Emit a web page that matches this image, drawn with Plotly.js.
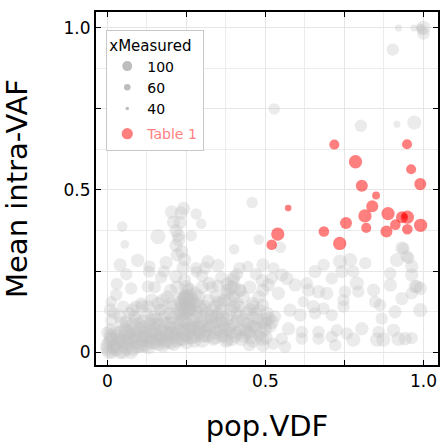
<!DOCTYPE html>
<html>
<head>
<meta charset="utf-8">
<script src="https://cdn.plot.ly/plotly-3.0.1.min.js"></script>
<style>html,body{margin:0;padding:0;background:#fff;}#chart{width:443px;height:443px;}</style>
</head>
<body>
<div id="chart"></div>
<script>
// ---- data: all samples (pop.VDF, Mean intra-VAF, xMeasured) ----
const grayX = [
 1.0,0.995,0.99,0.97,0.921,1.0,0.903,0.528,0.971,0.916,0.802,
 0.458,0.241,0.203,0.233,0.281,0.209,0.297,0.047,0.217,0.160,0.265,0.226,0.479,0.055,0.217,0.401,0.221,0.096,0.186,0.040,0.318,0.349,0.444,0.492,0.244,0.133,0.281,0.418,0.547,0.932,
 0.132,0.179,0.217,0.244,0.281,0.322,0.397,0.418,0.386,0.492,0.028,0.075,0.128,0.012,0.107,0.175,0.249,0.254,0.291,0.344,0.460,0.492,0.012,0.059,0.091,0.149,0.196,0.328,0.365,0.428,0.460,0.502,0.381,0.449,0.492,
 0.23,0.225,0.235,0.24,0.25,0.26,0.24,0.39,0.38,0.40,
 0.00,0.005,0.01,0.0,0.015,0.02,0.01,
 0.03,0.035,0.04,0.05,0.055,0.06,0.045,
 0.07,0.075,0.08,0.09,0.095,0.10,0.085,
 0.11,0.115,0.12,0.13,0.135,0.14,0.125,
 0.15,0.155,0.16,0.17,0.175,0.18,0.165,
 0.19,0.195,0.20,0.21,0.215,0.22,0.205,
 0.23,0.235,0.24,0.25,0.255,0.26,0.245,0.255,0.235,
 0.27,0.275,0.28,0.29,0.295,0.30,0.285,
 0.31,0.32,0.33,0.34,0.345,0.35,
 0.36,0.37,0.38,0.39,0.40,0.41,0.42,
 0.43,0.44,0.45,0.46,0.47,0.48,0.49,0.50,
 0.33,0.36,0.38,0.40,0.42,0.45,0.47,0.49,0.31,0.35,
 0.937,0.953,0.916,0.963,0.736,0.768,0.816,0.684,0.657,0.526,0.552,0.568,0.520,0.778,0.742,0.710,0.895,0.963,0.631,0.594,0.789,0.842,0.895,0.979,0.990,0.932,0.963,0.694,0.668,0.636,0.541,0.509,0.752,0.794,0.847,0.863,0.910,0.990,0.747,0.747,0.652,0.684,0.620,0.578,0.610,0.657,0.710,0.868,0.509,0.520,0.805,0.905,0.858,0.573,0.615,0.668,0.726,0.758,0.778,0.853,0.873,0.921,0.942,0.963,0.710,0.668,0.615,0.552,0.525,0.562,0.721,0.499,
 0.947,0.974,0.505,0.515,0.53,
 0.005,0.015,0.025,0.025,0.04,0.045,0.06,0.065,0.065,0.08,0.085,0.10,0.105,0.11,0.12,0.125,0.14,0.145,0.15,0.16,0.165,0.18,0.185,0.19,0.20,0.205,0.22,0.225,0.23,0.24,0.245,0.26,0.265,0.27,0.28,0.285,0.30,0.305,0.31,0.32,0.325,0.34,0.35,0.355,0.37,0.38,0.395,0.41,0.425,0.435,0.455,0.465,0.485,0.50,
 0.25,0.245,0.26,0.265,0.235,
 0.02,0.05,0.07,0.09,0.13,0.16,0.19,0.20,0.28,0.30,0.32,0.34,0.36,0.37,0.40,0.43,0.45,0.47,0.48,0.41,0.03,0.06,0.15,0.17,0.30,0.35,
 0.0,0.01,0.02,0.03,0.04,0.05,0.055,0.06,0.07,0.075,0.08,0.09,0.095,0.10,0.11,0.115,0.12,0.13,0.135,0.14,0.15,0.155,0.16,0.17,0.175,0.18,0.19,0.20,0.205,0.21,0.215,0.225,0.23,0.24,0.245,0.25,0.255,0.26,0.27,0.275,0.28,0.29,0.295,0.30,0.31,0.315,0.33,0.335,0.345,0.36,0.365,0.375,0.385,0.39,0.405,0.41,0.42,0.44,0.45,0.46,0.475,0.49,
 0.25,0.26,0.24,0.27,0.25,0.23,
 0.01,0.04,0.08,0.11,0.14,0.17,0.20,0.22,0.29,0.31,0.33,0.36,0.39,0.41,0.44,0.46,0.48,0.38,0.42,0.40
];
const grayY = [
 1.0,0.995,1.0,1.0,1.0,0.982,0.933,0.750,0.708,0.703,0.698,
 0.461,0.443,0.432,0.429,0.426,0.401,0.396,0.387,0.374,0.356,0.359,0.347,0.347,0.332,0.329,0.317,0.300,0.283,0.276,0.269,0.279,0.267,0.264,0.269,0.285,0.264,0.259,0.259,0.323,0.321,
 0.248,0.248,0.233,0.222,0.248,0.212,0.222,0.191,0.160,0.191,0.176,0.196,0.202,0.155,0.150,0.160,0.160,0.134,0.140,0.171,0.150,0.145,0.098,0.093,0.103,0.109,0.119,0.103,0.109,0.098,0.078,0.088,0.036,0.021,0.021,
 0.40,0.36,0.31,0.26,0.20,0.17,0.14,0.20,0.18,0.14,
 0.01,0.03,0.05,0.06,0.0,0.02,0.07,
 0.01,0.04,0.06,0.02,0.05,0.08,0.09,
 0.02,0.045,0.07,0.03,0.06,0.09,0.11,
 0.02,0.05,0.08,0.035,0.065,0.10,0.12,
 0.03,0.055,0.085,0.04,0.07,0.11,0.13,
 0.035,0.06,0.09,0.045,0.075,0.12,0.14,
 0.04,0.07,0.10,0.05,0.085,0.13,0.17,0.19,0.155,
 0.045,0.075,0.11,0.06,0.09,0.13,0.15,
 0.05,0.08,0.11,0.06,0.09,0.12,
 0.05,0.075,0.10,0.06,0.085,0.12,0.07,
 0.05,0.09,0.06,0.11,0.075,0.05,0.09,0.07,
 0.20,0.23,0.19,0.17,0.14,0.20,0.24,0.22,0.26,0.155,
 0.319,0.290,0.284,0.264,0.279,0.284,0.274,0.269,0.248,0.259,0.238,0.227,0.227,0.248,0.248,0.227,0.243,0.238,0.212,0.207,0.212,0.191,0.207,0.202,0.196,0.165,0.181,0.181,0.186,0.191,0.181,0.207,0.186,0.186,0.155,0.145,0.124,0.129,0.160,0.140,0.140,0.134,0.155,0.129,0.114,0.119,0.114,0.103,0.103,0.093,0.072,0.067,0.062,0.072,0.062,0.062,0.067,0.057,0.038,0.038,0.038,0.040,0.041,0.043,0.047,0.041,0.041,0.041,0.026,0.016,0.021,0.099,
 0.295,0.202,0.12,0.08,0.11,
 0.0,0.04,0.02,0.06,0.0,0.035,0.01,0.04,0.065,0.01,0.04,0.02,0.05,0.075,0.02,0.045,0.03,0.06,0.085,0.025,0.05,0.03,0.06,0.09,0.03,0.06,0.035,0.065,0.095,0.04,0.07,0.045,0.075,0.10,0.05,0.08,0.05,0.08,0.10,0.05,0.075,0.045,0.07,0.10,0.05,0.07,0.04,0.06,0.04,0.07,0.045,0.08,0.06,0.045,
 0.15,0.165,0.14,0.16,0.13,
 0.12,0.14,0.12,0.14,0.14,0.15,0.17,0.19,0.18,0.20,0.16,0.14,0.13,0.16,0.20,0.17,0.13,0.12,0.17,0.24,0.21,0.24,0.20,0.23,0.235,0.205,
 0.02,0.04,0.01,0.05,0.03,0.0,0.07,0.03,0.055,0.0,0.085,0.05,0.015,0.07,0.035,0.095,0.06,0.015,0.085,0.045,0.07,0.10,0.04,0.065,0.02,0.09,0.05,0.075,0.105,0.025,0.055,0.085,0.115,0.055,0.095,0.03,0.12,0.065,0.085,0.035,0.125,0.07,0.11,0.035,0.065,0.12,0.085,0.04,0.11,0.065,0.09,0.035,0.115,0.08,0.05,0.095,0.11,0.06,0.085,0.035,0.10,0.04,
 0.17,0.19,0.12,0.15,0.13,0.16,
 0.13,0.11,0.13,0.14,0.16,0.13,0.15,0.20,0.17,0.14,0.13,0.15,0.13,0.15,0.12,0.14,0.13,0.21,0.19,0.23
];
const grayMeasured = [
 90,70,60,50,50,80,80,75,90,50,80,
 75,85,85,85,75,85,70,70,85,95,75,85,70,60,85,70,85,85,85,85,85,85,75,85,85,80,80,80,75,85,
 80,80,85,85,75,85,85,85,95,85,80,80,80,75,80,85,105,105,90,85,85,80,80,80,85,85,85,85,85,85,85,85,80,80,85,
 85,85,85,85,90,100,100,90,85,85,
 90,85,90,80,85,90,80,
 90,85,90,85,90,80,85,
 90,85,85,90,85,80,85,
 90,85,85,90,85,85,80,
 90,85,85,90,85,85,80,
 90,85,85,90,85,85,80,
 90,85,90,90,85,90,85,80,90,
 90,85,85,90,85,85,80,
 90,85,85,90,85,80,
 85,85,85,85,85,80,85,
 85,80,85,80,85,80,80,85,
 80,80,85,80,80,85,80,85,80,80,
 80,80,90,85,90,90,80,80,85,75,85,85,80,80,85,80,80,85,80,85,90,85,85,85,85,85,80,85,85,85,85,85,80,80,80,80,85,90,80,80,85,80,75,85,85,80,80,80,90,90,85,85,80,85,80,80,80,80,90,90,90,90,85,80,80,80,80,80,80,80,80,90,
 80,85,85,85,80,
 90,85,90,85,90,85,90,85,85,90,85,90,85,85,90,85,90,85,85,90,85,90,85,85,90,85,90,85,85,90,85,90,85,85,90,85,90,85,85,90,85,90,85,85,90,85,90,85,90,85,90,85,85,90,
 100,100,95,95,95,
 80,80,80,80,85,85,85,85,85,85,85,85,85,85,85,85,85,85,85,80,80,80,80,80,80,80,
 90,90,85,90,85,90,85,90,85,90,85,90,85,90,85,90,85,90,85,90,85,85,90,85,90,85,90,85,85,90,85,85,85,90,85,90,85,90,85,90,85,90,85,90,85,85,90,85,85,90,85,90,85,85,90,85,85,90,85,90,85,90,
 100,95,95,95,100,95,
 85,85,85,85,85,85,85,85,85,85,85,85,85,85,85,85,85,85,85,85
];

// ---- data: Table 1 samples ----
const tableX = [0.718,0.948,0.785,0.961,0.805,0.990,0.850,0.572,0.838,0.815,0.888,0.932,0.949,0.940,0.991,0.911,0.755,0.819,0.883,0.949,0.685,0.539,0.735,0.520];
const tableY = [0.640,0.641,0.587,0.564,0.513,0.518,0.483,0.444,0.450,0.420,0.427,0.416,0.416,0.418,0.391,0.393,0.398,0.383,0.372,0.379,0.372,0.364,0.335,0.331];
const tableMeasured = [67,67,85,67,78,78,55,48,78,85,85,78,85,45,85,70,78,67,78,70,70,85,85,70];

// ---- legend / axes text ----
const sizeLegendValues = [100, 60, 40];
const xTickVals = [0, 0.25, 0.5, 0.75, 1];
const xTickText = ['0', '', '0.5', '', '1.0'];
const yTickVals = [0, 0.25, 0.5, 0.75, 1];
const yTickText = ['0', '', '0.5', '', '1.0'];

// ---- styling ----
const toPx = v => 0.18 * v - 2;
const legendPx = {100: 10, 60: 6.5, 40: 3.5};
const FONT = 'DejaVu Sans, sans-serif';

const traces = [];
traces.push({
  type: 'scatter', mode: 'markers', x: grayX, y: grayY,
  marker: {size: grayMeasured.map(toPx), color: 'rgb(192,192,192)', opacity: 0.32, line: {width: 0}},
  showlegend: false, hoverinfo: 'skip'
});
sizeLegendValues.forEach(v => {
  traces.push({
    type: 'scatter', mode: 'markers', x: [null], y: [null],
    name: String(v), legendgroup: 'size',
    marker: {size: legendPx[v], color: '#bdbdbd', line: {width: 0}},
    showlegend: true, hoverinfo: 'skip'
  });
});
traces.push({
  type: 'scatter', mode: 'markers', x: tableX, y: tableY,
  name: '<span style="color:#ff7f7f">Table 1</span>', legendgroup: 'tab',
  marker: {size: tableMeasured.map(toPx), color: 'rgb(255,0,0)', opacity: 0.5, line: {width: 0}},
  showlegend: true, hoverinfo: 'skip'
});

function axis(tv, tt, range, title) {
  return {
    range: range, tickmode: 'array', tickvals: tv, ticktext: tt,
    ticks: 'inside', ticklen: 5, tickwidth: 1, tickcolor: '#000',
    showline: true, linecolor: '#000', linewidth: 2, mirror: 'ticks',
    showgrid: true, gridcolor: '#e6e6e6', gridwidth: 1, zeroline: false,
    minor: {tickmode: 'linear', tick0: 0, dtick: 0.125, showgrid: true, gridcolor: '#ececec', gridwidth: 1, ticks: ''},
    tickfont: {family: FONT, size: 17, color: '#000'},
    title: {text: title, font: {family: FONT, size: 29, color: '#000'}}
  };
}

const layout = {
  width: 443, height: 443,
  margin: {l: 96, r: 5, t: 12, b: 78},
  paper_bgcolor: '#fff', plot_bgcolor: '#fff',
  font: {family: FONT, color: '#000'},
  xaxis: axis(xTickVals, xTickText, [-0.036, 1.046], 'pop.VDF'),
  yaxis: axis(yTickVals, yTickText, [-0.040, 1.049], 'Mean intra-VAF'),
  legend: {
    x: 0.03, y: 0.949, xanchor: 'left', yanchor: 'top',
    bgcolor: '#fff', bordercolor: '#c8c8c8', borderwidth: 1,
    font: {family: FONT, size: 14, color: '#000'},
    title: {text: 'xMeasured', font: {family: FONT, size: 15, color: '#000'}},
    traceorder: 'grouped', tracegroupgap: 4, itemsizing: 'trace'
  },
  showlegend: true
};

Plotly.newPlot('chart', traces, layout, {staticPlot: true, displayModeBar: false});
</script>
</body>
</html>
